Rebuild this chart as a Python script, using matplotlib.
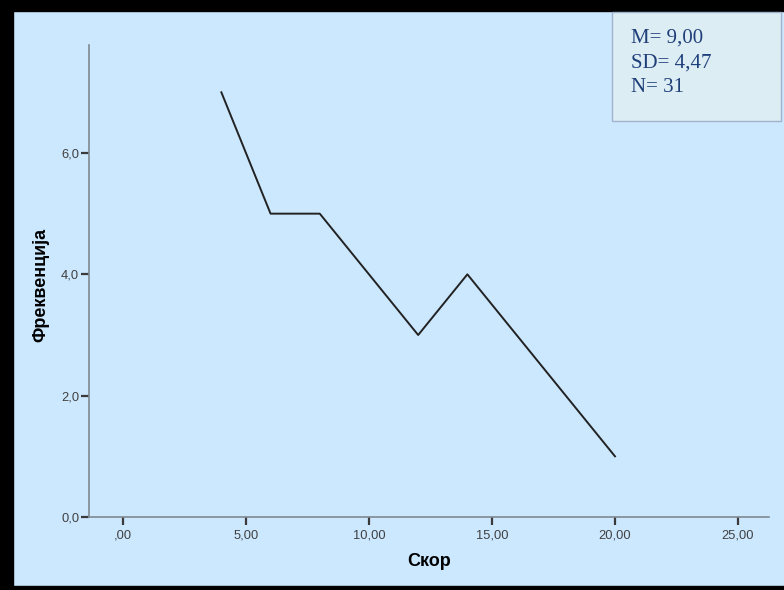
import matplotlib
matplotlib.use("Agg")
import matplotlib.pyplot as plt
from matplotlib.patches import Rectangle
from matplotlib.ticker import FuncFormatter

# data
score = [4, 6, 8, 12, 14, 20]
freq = [7, 5, 5, 3, 4, 1]
x_ticks = [0, 5, 10, 15, 20, 25]
y_ticks = [0, 2, 4, 6]
stats_lines = ["M= 9,00", "SD= 4,47", "N= 31"]

W, H = 784, 590
bg = "#cce8ff"


def fmt_x(v, pos):
    s = ("%.2f" % v).replace(".", ",")
    if s.startswith("0,"):
        s = s[1:]
    return s


def fmt_y(v, pos):
    return ("%.1f" % v).replace(".", ",")


fig = plt.figure(figsize=(W / 100, H / 100), dpi=100)
fig.patch.set_facecolor(bg)

# black frame on left, top, bottom
fig.add_artist(Rectangle((0, 0), 13 / W, 1, transform=fig.transFigure, color="black", zorder=0))
fig.add_artist(Rectangle((0, 1 - 11 / H), 1, 11 / H, transform=fig.transFigure, color="black", zorder=0))
fig.add_artist(Rectangle((0, 0), 1, 4 / H, transform=fig.transFigure, color="black", zorder=0))

# axes: x line at y=517, y line at x=89, top at 45, right at 769
ax = fig.add_axes([89 / W, 1 - 517 / H, (769 - 89) / W, (517 - 45) / H])
ax.set_facecolor(bg)
ax.plot(score, freq, color="#222222", lw=1.4)

ax.set_xlim(-1.38, 26.26)
ax.set_ylim(0, 7.78)
ax.set_xticks(x_ticks)
ax.set_yticks(y_ticks)
ax.xaxis.set_major_formatter(FuncFormatter(fmt_x))
ax.yaxis.set_major_formatter(FuncFormatter(fmt_y))

for s in ["top", "right"]:
    ax.spines[s].set_visible(False)
for s in ["left", "bottom"]:
    ax.spines[s].set_color("#808890")
    ax.spines[s].set_linewidth(1.2)

ax.tick_params(axis="both", colors="#3a3a3a", labelsize=9.3, length=6, width=1.6, direction="out")
ax.tick_params(axis="y", pad=1)
ax.tick_params(axis="x", pad=3)
for lab in ax.get_xticklabels() + ax.get_yticklabels():
    lab.set_family("Liberation Sans")
    lab.set_color("#404040")

fig.text(429 / W, 1 - 561 / H, "Скор", ha="center", va="center",
         fontsize=13, fontweight="bold", family="Liberation Sans", color="black")
fig.text(41 / W, 1 - 285 / H, "Фреквенција", ha="center", va="center", rotation=90,
         fontsize=13, fontweight="bold", family="Liberation Sans", color="black")

# stats box
fig.add_artist(Rectangle((612 / W, 1 - 121 / H), (781 - 612) / W, (121 - 12) / H,
                         transform=fig.transFigure, facecolor="#dcedf3",
                         edgecolor="#9fb3cf", lw=1, zorder=3))
for i, line in enumerate(stats_lines):
    fig.text(631 / W, 1 - (43 + 24.5 * i) / H, line, ha="left", va="baseline",
             fontsize=15, family="Liberation Serif", color="#1f3f7a", zorder=4)

fig.savefig("out.png", dpi=100, facecolor=bg)
